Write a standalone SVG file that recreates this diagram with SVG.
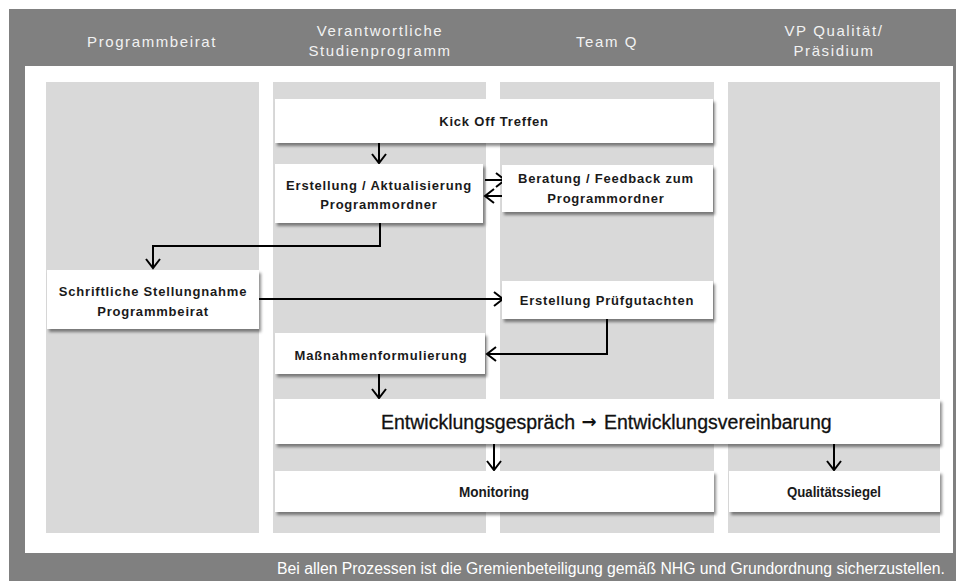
<svg xmlns="http://www.w3.org/2000/svg" width="956" height="581" viewBox="0 0 956 581">
<defs>
<filter id="sh" x="-10%" y="-20%" width="125%" height="160%">
<feDropShadow dx="2" dy="3" stdDeviation="1.5" flood-color="#000" flood-opacity="0.45"/>
</filter>
<marker id="ah" markerUnits="userSpaceOnUse" markerWidth="16" markerHeight="16" viewBox="0 0 16 16" refX="12" refY="8" orient="auto">
<path d="M3,1 L12,8 L3,15" fill="none" stroke="#000" stroke-width="2"/>
</marker>
<style>
.hd{font-family:"Liberation Sans",Arial,sans-serif;font-size:15px;fill:#f2f2f2;letter-spacing:1.6px;text-anchor:middle}
.lane{fill:#d9d9d9}
.box{fill:#fff;filter:url(#sh)}
.t{font-family:"Liberation Sans",Arial,sans-serif;font-size:13px;font-weight:bold;fill:#1a1a1a;letter-spacing:0.8px;text-anchor:middle}
.tc{font-family:"Liberation Sans",Arial,sans-serif;font-size:14px;font-weight:bold;fill:#1a1a1a;text-anchor:middle}
.big{font-family:"Liberation Sans",Arial,sans-serif;font-size:19.5px;fill:#111;stroke:#111;stroke-width:0.3}
.arr{font-family:"DejaVu Sans",sans-serif;font-size:18px;font-weight:bold;fill:#111;text-anchor:middle}
.c{fill:none;stroke:#000;stroke-width:2;marker-end:url(#ah)}
.ft{font-family:"Liberation Sans",Arial,sans-serif;font-size:16px;fill:#fff;text-anchor:end}
</style>
</defs>
<rect x="9" y="9" width="947" height="572" fill="#808080"/>
<rect x="25" y="66" width="928" height="487" fill="#fff"/>
<g id="lanes">
<rect class="lane" x="46" y="82" width="213" height="451"/>
<rect class="lane" x="273" y="82" width="213" height="451"/>
<rect class="lane" x="500" y="82" width="214" height="451"/>
<rect class="lane" x="728" y="82" width="212" height="451"/>
</g>
<g id="headers">
<text class="hd" x="152" y="47">Programmbeirat</text>
<text class="hd" x="380" y="36">Verantwortliche</text>
<text class="hd" x="380" y="56">Studienprogramm</text>
<text class="hd" x="607" y="47">Team Q</text>
<text class="hd" x="834" y="36">VP Qualität/</text>
<text class="hd" x="834" y="56">Präsidium</text>
</g>
<g id="connectors">
<path class="c" d="M379,143 V163"/>
<path class="c" d="M485,180 H505"/>
<path class="c" d="M505,196 H485"/>
<path class="c" d="M380,223 V246 H153 V268"/>
<path class="c" d="M259,299 H503"/>
<path class="c" d="M607,319 V354 H487"/>
<path class="c" d="M379,374 V398"/>
<path class="c" d="M494,444 V470"/>
<path class="c" d="M834,444 V470"/>
</g>
<g id="n-kickoff">
<rect class="box" x="275" y="99" width="438" height="44"/>
<text class="t" x="494" y="126">Kick Off Treffen</text>
</g>
<g id="n-erstellung">
<rect class="box" x="275" y="164" width="208" height="59"/>
<text class="t" x="379" y="190">Erstellung / Aktualisierung</text>
<text class="t" x="379" y="209">Programmordner</text>
</g>
<g id="n-beratung">
<rect class="box" x="502" y="165" width="211" height="47"/>
<text class="t" x="606" y="183">Beratung / Feedback  zum</text>
<text class="t" x="606" y="203">Programmordner</text>
</g>
<g id="n-stellungnahme">
<rect class="box" x="47" y="270" width="212" height="59"/>
<text class="t" x="153" y="296">Schriftliche Stellungnahme</text>
<text class="t" x="153" y="316">Programmbeirat</text>
</g>
<g id="n-pruefgutachten">
<rect class="box" x="502" y="281" width="211" height="38"/>
<text class="t" x="607" y="305">Erstellung Prüfgutachten</text>
</g>
<g id="n-massnahmen">
<rect class="box" x="275" y="333" width="210" height="41"/>
<text class="t" x="381" y="360">Maßnahmenformulierung</text>
</g>
<g id="n-entwicklung">
<rect class="box" x="275" y="399" width="665" height="45"/>
<text class="big" x="381" y="429">Entwicklungsgespräch</text>
<text class="arr" x="589" y="428">→</text>
<text class="big" x="604" y="429">Entwicklungsvereinbarung</text>
</g>
<g id="n-monitoring">
<rect class="box" x="275" y="471" width="439" height="41"/>
<text class="tc" x="494" y="497" textLength="70" lengthAdjust="spacingAndGlyphs">Monitoring</text>
</g>
<g id="n-siegel">
<rect class="box" x="729" y="471" width="211" height="41"/>
<text class="tc" x="834" y="497" textLength="94" lengthAdjust="spacingAndGlyphs">Qualitätssiegel</text>
</g>
<text class="ft" x="945" y="574" textLength="668" lengthAdjust="spacingAndGlyphs">Bei allen Prozessen ist die Gremienbeteiligung gemäß NHG und Grundordnung sicherzustellen.</text>
</svg>
